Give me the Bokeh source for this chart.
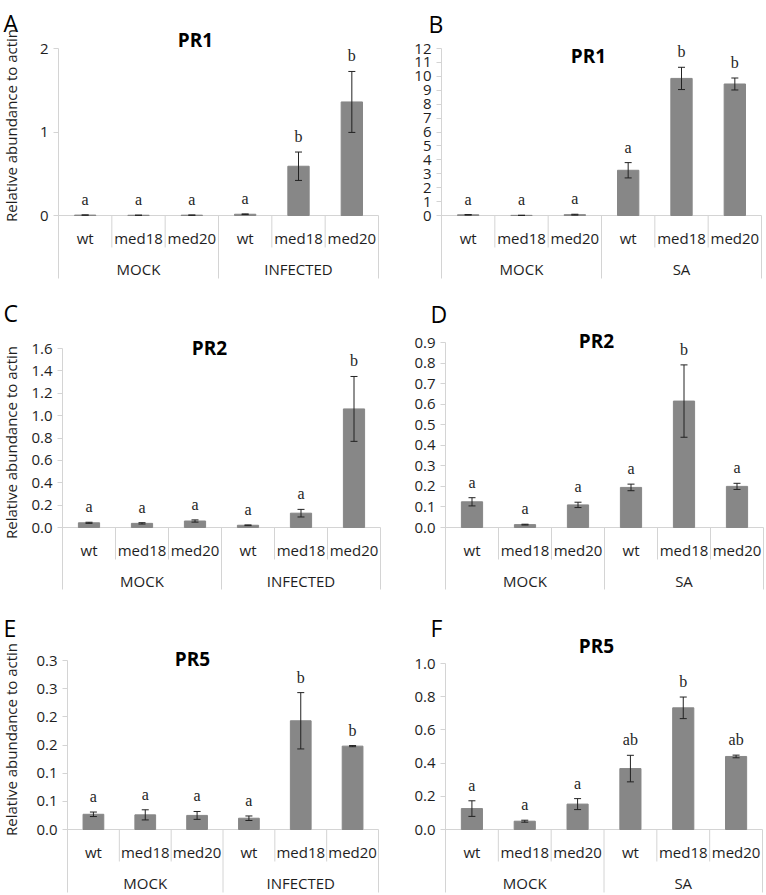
import math
from bokeh.plotting import figure
from bokeh.layouts import column, row
from bokeh.models import Range1d, FixedTicker, Label, ColumnDataSource
from bokeh.core.properties import value
from bokeh.embed import file_html
from bokeh.resources import INLINE

# ---------------- data ----------------
categories = ["wt", "med18", "med20", "wt", "med18", "med20"]
groups_inf = ["MOCK", "INFECTED"]
groups_sa = ["MOCK", "SA"]

A_vals = [0.005, 0.003, 0.004, 0.015, 0.59, 1.36]
A_errs = [0.002, 0.001, 0.002, 0.004, 0.17, 0.365]
A_sig = ["a", "a", "a", "a", "b", "b"]
A_ticks = [0, 1, 2]
A_tick_labels = ["0", "1", "2"]

B_vals = [0.05, 0.01, 0.06, 3.25, 9.85, 9.45]
B_errs = [0.02, 0.005, 0.03, 0.55, 0.8, 0.43]
B_sig = ["a", "a", "a", "a", "b", "b"]
B_ticks = [0, 1, 2, 3, 4, 5, 6, 7, 8, 9, 10, 11, 12]
B_tick_labels = ["0", "1", "2", "3", "4", "5", "6", "7", "8", "9", "10", "11", "12"]

C_vals = [0.042, 0.037, 0.058, 0.02, 0.128, 1.06]
C_errs = [0.005, 0.006, 0.01, 0.003, 0.034, 0.29]
C_sig = ["a", "a", "a", "a", "a", "b"]
C_ticks = [0, 0.2, 0.4, 0.6, 0.8, 1.0, 1.2, 1.4, 1.6]
C_tick_labels = ["0.0", "0.2", "0.4", "0.6", "0.8", "1.0", "1.2", "1.4", "1.6"]

D_vals = [0.125, 0.014, 0.11, 0.195, 0.615, 0.2]
D_errs = [0.02, 0.002, 0.013, 0.016, 0.176, 0.015]
D_sig = ["a", "a", "a", "a", "b", "a"]
D_ticks = [0, 0.1, 0.2, 0.3, 0.4, 0.5, 0.6, 0.7, 0.8, 0.9]
D_tick_labels = ["0.0", "0.1", "0.2", "0.3", "0.4", "0.5", "0.6", "0.7", "0.8", "0.9"]

E_vals = [0.027, 0.026, 0.025, 0.02, 0.193, 0.148]
E_errs = [0.004, 0.009, 0.007, 0.004, 0.05, 0.001]
E_sig = ["a", "a", "a", "a", "b", "b"]
E_ticks = [0, 0.05, 0.1, 0.15, 0.2, 0.25, 0.3]
E_tick_labels = ["0.0", "0.1", "0.1", "0.2", "0.2", "0.3", "0.3"]

F_vals = [0.126, 0.05, 0.153, 0.367, 0.733, 0.44]
F_errs = [0.047, 0.006, 0.033, 0.08, 0.065, 0.008]
F_sig = ["a", "a", "a", "ab", "b", "ab"]
F_ticks = [0, 0.2, 0.4, 0.6, 0.8, 1.0]
F_tick_labels = ["0.0", "0.2", "0.4", "0.6", "0.8", "1.0"]

YLABEL = "Relative abundance to actin"

# ---------------- style ----------------
BAR = "#878787"
AXIS = "#d4d4d4"
TXT = "#1e1e1e"
SANS = "Open Sans"
SERIF = "Liberation Serif"
XSPAN = 6.0


def panel(tag, title, vals, errs, sig, groups, ticks, tick_labels, ymax, g):
    W, H = g["W"], g["H"]
    fl, fr, top, zero, bot = g["fl"], g["fr"], g["top"], g["zero"], g["bot"]
    s = ymax / (zero - top)          # data units per pixel (vertical)
    cw = (fr - fl) / XSPAN           # pixels per category

    def yd(py):
        return ymax - (py - top) * s

    def xd(px):
        return (px - fl) / cw

    p = figure(width=W, height=H, output_backend="svg", toolbar_location=None,
               title=None,
               x_range=Range1d(xd(0), xd(W)), y_range=Range1d(yd(H), yd(0)),
               min_border_left=0, min_border_right=0,
               min_border_top=0, min_border_bottom=0)
    p.outline_line_color = None
    p.xgrid.visible = False
    p.ygrid.visible = False
    p.xaxis.visible = False
    p.background_fill_color = "white"
    p.border_fill_color = "white"

    ax = p.yaxis[0]
    ax.fixed_location = 0
    ax.bounds = (yd(bot), ymax)
    ax.ticker = FixedTicker(ticks=ticks, minor_ticks=[])
    ax.major_label_overrides = {t: l for t, l in zip(ticks, tick_labels)}
    ax.axis_line_color = AXIS
    ax.major_tick_line_color = AXIS
    ax.major_tick_in = 0
    ax.major_tick_out = 5
    ax.minor_tick_line_color = None
    ax.major_label_text_font = SANS
    ax.major_label_text_font_size = "15px"
    ax.major_label_text_color = TXT
    ax.major_label_standoff = 5

    xs = [i + 0.5 for i in range(len(categories))]
    lo = [v - e for v, e in zip(vals, errs)]
    hi = [v + e for v, e in zip(vals, errs)]
    src = ColumnDataSource(dict(x=xs, top=vals, lo=lo, hi=hi, sig=sig, cat=categories))

    # zero line and category dividers
    p.segment(x0=[0], y0=[0], x1=[XSPAN], y1=[0], line_color=AXIS, line_width=1)
    inner_bottom = yd(zero + 32)
    p.segment(x0=[1, 2, 4, 5], y0=[0] * 4, x1=[1, 2, 4, 5], y1=[inner_bottom] * 4,
              line_color=AXIS, line_width=1)
    p.segment(x0=[3, XSPAN], y0=[0, 0], x1=[3, XSPAN], y1=[yd(bot)] * 2,
              line_color=AXIS, line_width=1)

    p.vbar(x="x", top="top", bottom=0, width=0.4, source=src,
           fill_color=BAR, line_color=BAR)
    p.segment(x0="x", y0="lo", x1="x", y1="hi", source=src, line_color="#222222", line_width=1)
    p.scatter(x="x", y="hi", marker="dash", size=7, source=src, line_color="#222222", line_width=1)
    p.scatter(x="x", y="lo", marker="dash", size=7, source=src, line_color="#222222", line_width=1)

    p.text(x="x", y="hi", text="sig", source=src, text_align="center",
           text_baseline="bottom", y_offset=-7, text_font=value(SERIF),
           text_font_size="16px", text_color=TXT)

    p.text(x="x", y=0, text="cat", source=src, text_align="center",
           text_baseline="middle", y_offset=22, text_font=value(SANS),
           text_font_size="15px", text_color=TXT)
    gsrc = ColumnDataSource(dict(x=[1.5, 4.5], g=groups))
    p.text(x="x", y=0, text="g", source=gsrc, text_align="center",
           text_baseline="middle", y_offset=53, text_font=value(SANS),
           text_font_size="15px", text_color=TXT)

    p.add_layout(Label(x=xd(g["title"][0]), y=yd(g["title"][1]), text=title,
                       text_align="center", text_baseline="alphabetic",
                       text_font=SANS, text_font_style="bold",
                       text_font_size="19px", text_color="black"))
    p.add_layout(Label(x=xd(g["tag"][0]), y=yd(g["tag"][1]), text=tag,
                       text_align="left", text_baseline="alphabetic",
                       text_font=SANS, text_font_size="23px", text_color="black"))
    if "ylab" in g:
        p.add_layout(Label(x=xd(g["ylab"][0]), y=yd(g["ylab"][1]), text=YLABEL,
                           angle=math.pi / 2, text_align="center", text_baseline="middle",
                           text_font=SANS, text_font_size="15px", text_color=TXT))
    return p


# figure-relative pixel geometry (frame left/right, top tick, zero line, divider bottom)
gA = dict(W=383, H=290, fl=58, fr=378, top=48, zero=215, bot=278,
          tag=(3, 22), title=(195, 39), ylab=(10, 125))
gB = dict(W=383, H=290, fl=58, fr=378, top=48, zero=215, bot=278,
          tag=(45, 23), title=(205, 55))
gC = dict(W=383, H=300, fl=62, fr=380, top=58, zero=237, bot=299,
          tag=(3, 22), title=(209, 57), ylab=(10, 152))
gD = dict(W=383, H=300, fl=62, fr=380, top=52, zero=237, bot=299,
          tag=(47, 23), title=(213, 50))
gE = dict(W=383, H=304, fl=67, fr=378, top=70, zero=239, bot=302,
          tag=(3, 37), title=(192, 68), ylab=(10, 149))
gF = dict(W=383, H=304, fl=62, fr=379, top=73, zero=239, bot=302,
          tag=(47, 37), title=(213, 55))

pA = panel("A", "PR1", A_vals, A_errs, A_sig, groups_inf, A_ticks, A_tick_labels, 2, gA)
pB = panel("B", "PR1", B_vals, B_errs, B_sig, groups_sa, B_ticks, B_tick_labels, 12, gB)
pC = panel("C", "PR2", C_vals, C_errs, C_sig, groups_inf, C_ticks, C_tick_labels, 1.6, gC)
pD = panel("D", "PR2", D_vals, D_errs, D_sig, groups_sa, D_ticks, D_tick_labels, 0.9, gD)
pE = panel("E", "PR5", E_vals, E_errs, E_sig, groups_inf, E_ticks, E_tick_labels, 0.3, gE)
pF = panel("F", "PR5", F_vals, F_errs, F_sig, groups_sa, F_ticks, F_tick_labels, 1.0, gF)

layout = column(row(pA, pB), row(pC, pD), row(pE, pF))

open("out.html", "w").write(file_html(layout, INLINE))
